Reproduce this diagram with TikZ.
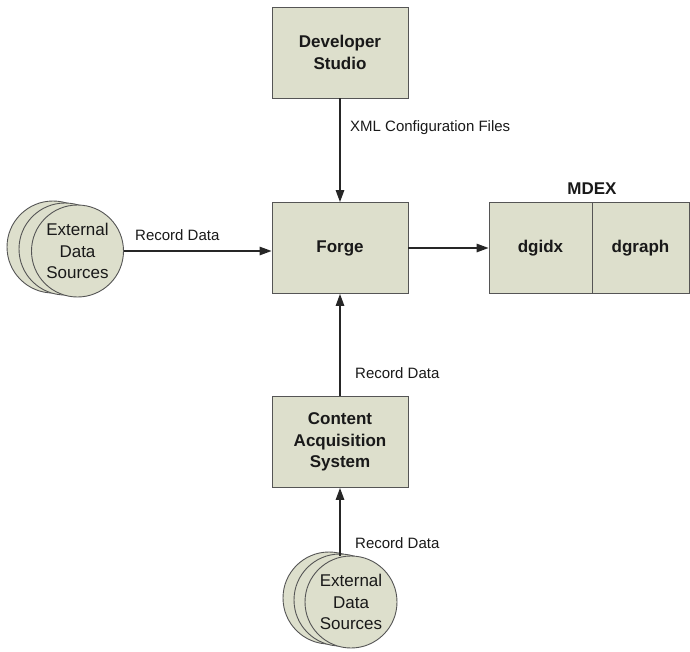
\documentclass[tikz,border=0pt]{standalone}
\usepackage{fontspec}
\setmainfont{Liberation Sans}
\usetikzlibrary{arrows.meta}
\definecolor{boxfill}{RGB}{221,223,204}
\definecolor{boxline}{RGB}{85,85,85}
\definecolor{txt}{RGB}{25,25,25}
\begin{document}
\begin{tikzpicture}[x=1pt,y=-1pt,
  box/.style={draw=boxline,fill=boxfill,line width=0.9pt,minimum width=136pt,minimum height=91pt,
    inner sep=0pt,align=center,text=txt,font=\fontsize{17}{21.5}\selectfont\bfseries},
  half/.style={box,minimum width=103pt},
  halfb/.style={box,minimum width=97pt},
  src/.style={circle,draw=boxline,fill=boxfill,line width=0.9pt,minimum size=92pt,inner sep=0pt,
    align=center,text=txt,font=\fontsize{17}{21.5}\selectfont},
  lbl/.style={anchor=west,inner sep=0pt,text=txt,font=\fontsize{15}{18}\selectfont},
  arr/.style={draw=black!85,line width=1.4pt,-{Triangle[length=12pt,width=8.5pt]}}]
\useasboundingbox (0,0) rectangle (690,651);

% boxes
\node[box] (dev) at (340,52.5) {Developer\\Studio};
\node[box] (forge) at (340,248) {Forge};
\node[box] (cas) at (340,442) {Content\\Acquisition\\System};
\node[half] (dgidx) at (540.5,248) {dgidx};
\node[halfb] (dgraph) at (640.5,248) {dgraph};
\node[inner sep=0pt,text=txt,font=\fontsize{17}{21}\selectfont\bfseries] (mdex) at (592,189) {MDEX};

% left sources
\node[src] (l3) at (53,247) {};
\node[src] (l2) at (65,249) {};
\node[src] (l1) at (77.5,251) {External\\Data\\Sources};

% bottom sources
\node[src] (b3) at (329,598) {};
\node[src] (b2) at (340,600) {};
\node[src] (b1) at (351,602) {External\\Data\\Sources};

% connectors
\draw[arr] (dev.south) -- (forge.north);
\draw[arr] (l1.east) -- (l1.east -| forge.west);
\draw[arr] (forge.east) -- (dgidx.west);
\draw[arr] (cas.north) -- (forge.south);
\coordinate (b1top) at (cas.south |- b1.north);
\draw[arr] (b1top) -- (cas.south);

% labels
\node[lbl] (xml) at (350,128) {XML Configuration Files};
\node[lbl] (rd1) at (135,235) {Record Data};
\node[lbl] (rd2) at (355,373) {Record Data};
\node[lbl] (rd3) at (355,543) {Record Data};
\end{tikzpicture}
\end{document}
